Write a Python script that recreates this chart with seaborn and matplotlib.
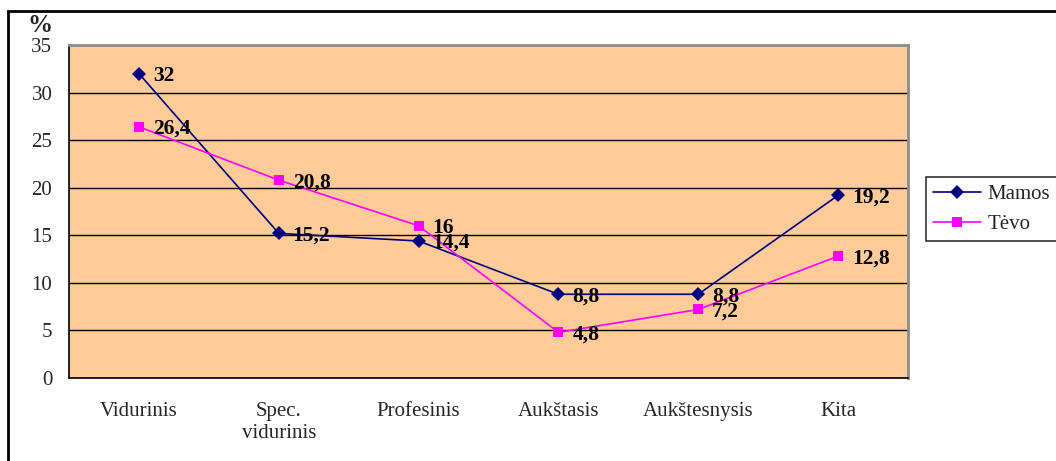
import matplotlib
matplotlib.use("Agg")
import matplotlib.pyplot as plt
from matplotlib.patches import Rectangle
import seaborn as sns
import numpy as np
import pandas as pd

categories = ["Vidurinis", "Spec.\nvidurinis", "Profesinis", "Aukštasis", "Aukštesnysis", "Kita"]
mamos = [32, 15.2, 14.4, 8.8, 8.8, 19.2]
tevo = [26.4, 20.8, 16, 4.8, 7.2, 12.8]
series_names = ["Mamos", "Tėvo"]
y_ticks = [0, 5, 10, 15, 20, 25, 30, 35]

sns.set_theme(style="white")
plt.rcParams["font.family"] = ["Liberation Serif", "DejaVu Serif"]

x = np.arange(len(categories))
df = pd.DataFrame({"x": np.concatenate([x, x]),
                   "value": mamos + tevo,
                   "series": [series_names[0]] * len(x) + [series_names[1]] * len(x)})

fig = plt.figure(figsize=(10.56, 4.61), dpi=100)
ax = fig.add_axes([69 / 1056, 83 / 461, 839 / 1056, 333 / 461])
ax.set_facecolor("#FFCC99")

styles = {"Mamos": dict(color="#000080", marker="D", markersize=7.5),
          "Tėvo": dict(color="#FF00FF", marker="s", markersize=7.5)}
for name in series_names:
    sub = df[df["series"] == name]
    sns.lineplot(data=sub, x="x", y="value", ax=ax, label=name, lw=1.2,
                 markeredgewidth=0, **styles[name])
    for xi, v in zip(sub["x"], sub["value"]):
        lbl = f"{v:g}".replace(".", ",")
        ax.annotate(lbl, (xi, v), xytext=(10, -1.5), textcoords="offset points",
                    ha="left", va="center", fontsize=15.5, fontweight="bold", color="black")

ax.set_xlim(-0.5, len(categories) - 0.5)
ax.set_ylim(0, 35)
ax.set_yticks(y_ticks)
ax.set_xticks(x)
ax.set_xticklabels(categories, fontsize=15, linespacing=1.25)
ax.set_xticks(np.arange(-0.5, len(categories)), minor=True)
ax.tick_params(axis="x", which="major", length=0, pad=17)
ax.tick_params(axis="x", which="minor", length=5, width=1, direction="out", color="black")
ax.tick_params(axis="y", length=5, width=1, direction="out", color="black", pad=7, labelsize=15)
ax.set_xlabel("")
ax.set_ylabel("")
ax.yaxis.grid(True, color="black", lw=1)
ax.set_axisbelow(True)

for side in ["left", "bottom"]:
    ax.spines[side].set_color("black")
    ax.spines[side].set_linewidth(1.2)
for side in ["top", "right"]:
    ax.spines[side].set_color("#8C8C8C")
    ax.spines[side].set_linewidth(2)

fig.text(27 / 1056, 1 - 26 / 461, "%", fontsize=18, fontweight="bold", va="center", ha="left")

leg = ax.legend(loc="upper left", bbox_to_anchor=(926 / 1056, 1 - 177 / 461),
                bbox_transform=fig.transFigure, frameon=True, fancybox=False,
                fontsize=15, handlelength=2.3, borderpad=0.35, labelspacing=0.5,
                handletextpad=0.3, borderaxespad=0)
leg.get_frame().set_edgecolor("black")
leg.get_frame().set_linewidth(1.2)

fig.patches.append(Rectangle((8 / 1056, -0.1), 1.2, 1 - 11 / 461 + 0.1,
                             transform=fig.transFigure, fill=False,
                             edgecolor="black", lw=2, clip_on=False))

fig.savefig("out.png", dpi=100)
